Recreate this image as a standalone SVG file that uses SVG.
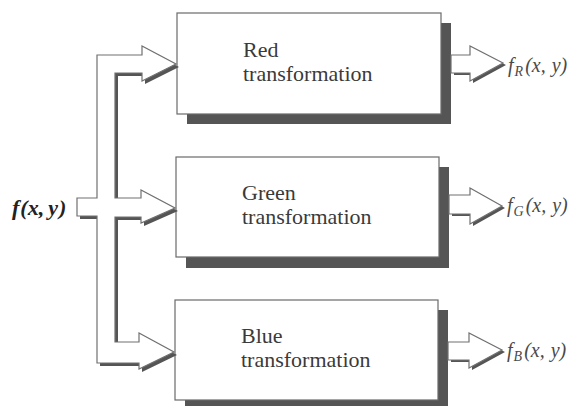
<svg xmlns="http://www.w3.org/2000/svg" width="579" height="406" viewBox="0 0 579 406">
<style>
.shadow{fill:#555555}
.box{fill:#fff;stroke:#6a6a6a;stroke-width:1.2}
.shape{fill:#fff;stroke:#707070;stroke-width:1.2;stroke-linejoin:miter}
.lbl{font-size:22px;fill:#3a3a3a}
.out{font-style:italic;font-size:20px;fill:#4a4a4a}
.in{font-style:italic;font-weight:bold;font-size:22px;fill:#222}
</style>
<defs>
<path id="bus" d="M77,198 L97,198 L97,55 L142,55 L142,46 L176,64 L142,81 L142,73 L115,73 L115,198 L141,198 L141,190 L175,208 L141,223 L141,217 L115,217 L115,342 L139,342 L139,333 L174,352 L139,369 L139,363 L97,363 L97,216 L77,216 Z"/>
<path id="outR" d="M451,55 L470,55 L470,46 L503,63 L470,81 L470,73 L451,73 Z"/>
<path id="outG" d="M449,195 L470,195 L470,188 L502,206 L470,224 L470,214 L449,214 Z"/>
<path id="outB" d="M448,342 L469,342 L469,333 L502,350 L469,368 L469,360 L448,360 Z"/>
</defs>
<rect width="579" height="406" fill="#fff"/>

<g id="red-node">
<rect class="shadow" x="187" y="23" width="264" height="101"/>
<rect class="box" x="177" y="13" width="264" height="101"/>
<text class="lbl" x="243" y="57" font-family="Liberation Serif, serif">Red</text>
<text class="lbl" x="243" y="81" font-family="Liberation Serif, serif">transformation</text>
</g>

<g id="green-node">
<rect class="shadow" x="186" y="167" width="263" height="101"/>
<rect class="box" x="176" y="157" width="263" height="100"/>
<text class="lbl" x="242" y="200" font-family="Liberation Serif, serif">Green</text>
<text class="lbl" x="242" y="224" font-family="Liberation Serif, serif">transformation</text>
</g>

<g id="blue-node">
<rect class="shadow" x="185" y="310" width="263" height="100"/>
<rect class="box" x="175" y="300" width="263" height="100"/>
<text class="lbl" x="241" y="343" font-family="Liberation Serif, serif">Blue</text>
<text class="lbl" x="241" y="367" font-family="Liberation Serif, serif">transformation</text>
</g>

<g id="connectors">
<use href="#bus" class="shadow" transform="translate(3,3)"/>
<use href="#bus" class="shape"/>
<use href="#outR" class="shadow" transform="translate(3,2)"/>
<use href="#outR" class="shape"/>
<use href="#outG" class="shadow" transform="translate(3,2)"/>
<use href="#outG" class="shape"/>
<use href="#outB" class="shadow" transform="translate(3,2)"/>
<use href="#outB" class="shape"/>
</g>

<g id="input-label">
<text class="in" x="12" y="215" font-family="Liberation Serif, serif">f<tspan dx="1">(x,</tspan><tspan dx="4">y</tspan><tspan dx="1">)</tspan></text>
</g>
<g id="output-labels">
<text class="out" x="508" y="72" font-family="Liberation Serif, serif">f<tspan font-size="14" dy="4" dx="1">R</tspan><tspan dy="-4" dx="2">(x,</tspan><tspan dx="6">y)</tspan></text>
<text class="out" x="507" y="212" font-family="Liberation Serif, serif">f<tspan font-size="14" dy="4" dx="1">G</tspan><tspan dy="-4" dx="2">(x,</tspan><tspan dx="6">y)</tspan></text>
<text class="out" x="507" y="357" font-family="Liberation Serif, serif">f<tspan font-size="14" dy="4" dx="1">B</tspan><tspan dy="-4" dx="2">(x,</tspan><tspan dx="6">y)</tspan></text>
</g>
</svg>
